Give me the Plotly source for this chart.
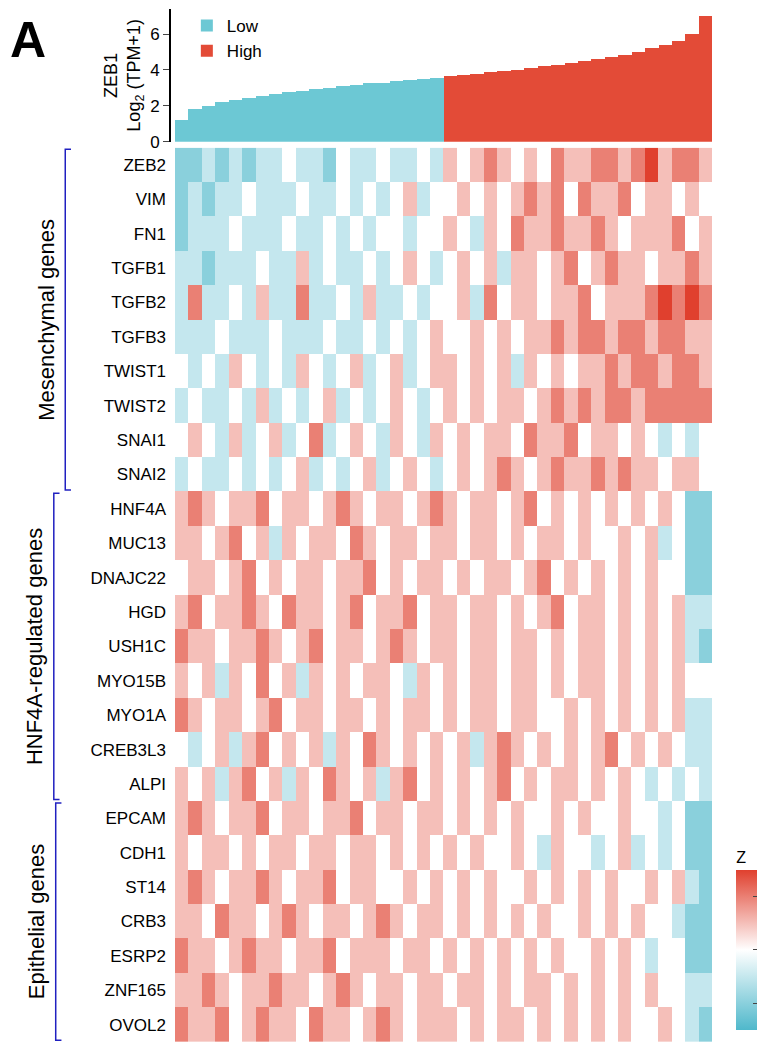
import plotly.graph_objects as go

zeb1 = [1.2, 1.8, 2.0, 2.2, 2.3, 2.45, 2.55, 2.65, 2.75, 2.85, 2.95, 3.0, 3.1, 3.15, 3.25, 3.3, 3.38, 3.45, 3.5, 3.57,
        3.65, 3.72, 3.8, 3.87, 3.95, 4.02, 4.1, 4.2, 4.3, 4.4, 4.5, 4.6, 4.7, 4.85, 5.0, 5.2, 5.4, 5.6, 6.0, 7.0]
n_low = 20

genes = ["ZEB2", "VIM", "FN1", "TGFB1", "TGFB2", "TGFB3", "TWIST1", "TWIST2", "SNAI1", "SNAI2",
         "HNF4A", "MUC13", "DNAJC22", "HGD", "USH1C", "MYO15B", "MYO1A", "CREB3L3", "ALPI",
         "EPCAM", "CDH1", "ST14", "CRB3", "ESRP2", "ZNF165", "OVOL2"]

z_rows = [
    [-2,-2,-1,-2,-1,-2,-1,-1,0,-1,-1,-2,0,-1,-1,0,-1,-1,0,-1, 1,0,1,2,1,0,1,0,2,1,1,2,2,1,2,3,1,2,2,1],
    [-2,-1,-2,-1,-1,0,-1,-1,-1,0,-1,-1,0,-1,0,-1,0,1,-1,0, 0,1,0,1,0,1,2,1,2,0,2,1,1,2,0,1,1,0,1,0],
    [-2,-1,-1,-1,0,-1,-1,-1,0,-1,-1,0,-1,0,-1,0,0,-1,0,0, 1,0,-1,1,0,2,1,1,2,1,1,2,1,0,1,1,1,2,0,1],
    [-1,-1,-2,-1,-1,-1,0,-1,-1,1,-1,0,-1,-1,0,-1,0,1,0,-1, 0,1,0,1,-1,1,1,0,1,2,0,1,2,1,1,0,1,1,2,1],
    [-1,2,-1,-1,0,-1,1,-1,-1,2,-1,-1,0,-1,1,-1,-1,0,-1,0, 0,1,-1,2,0,1,1,0,1,1,2,0,1,1,1,2,3,2,3,2],
    [-1,-1,-1,0,-1,-1,-1,0,-1,-1,-1,0,-1,-1,0,-1,0,-1,0,1, 0,0,1,0,1,0,1,1,2,1,2,2,1,2,2,1,2,2,1,1],
    [0,-1,0,-1,1,0,-1,0,-1,1,0,-1,0,1,-1,0,1,-1,0,1, 1,0,1,0,1,-1,1,0,1,0,1,1,2,1,2,2,1,2,2,1],
    [-1,0,-1,-1,0,-1,1,-1,0,-1,0,1,-1,0,-1,0,1,0,-1,0, 1,0,1,0,1,1,0,1,2,1,2,1,2,2,1,2,2,2,2,2],
    [0,1,0,-1,1,-1,0,1,-1,0,2,-1,0,1,0,-1,1,0,-1,1, 0,1,0,1,1,0,2,1,1,2,0,1,1,0,1,0,-1,0,-1,0],
    [-1,0,-1,-1,0,-1,0,-1,0,1,-1,0,-1,0,1,-1,0,1,0,-1, 0,1,0,1,2,1,0,1,2,1,1,2,1,2,1,1,0,1,1,0],
    [1,2,1,0,1,1,2,0,1,1,0,1,2,1,0,1,1,0,1,2, 1,0,1,1,0,1,2,0,1,0,1,0,1,0,1,0,1,0,-2,-2],
    [1,1,0,1,2,0,1,-1,1,0,1,1,0,2,1,0,1,1,0,1, 1,0,1,1,0,1,0,1,1,0,1,0,0,1,0,1,-1,0,-2,-2],
    [0,1,1,0,1,2,0,1,0,1,1,0,1,1,2,0,1,0,1,1, 0,1,0,1,1,0,1,2,0,1,0,1,0,1,0,1,0,0,-2,-2],
    [1,2,0,1,1,2,1,0,2,1,1,0,1,2,0,1,1,2,0,1, 1,0,1,1,0,1,0,1,2,0,1,1,0,1,0,1,0,1,-1,-1],
    [2,1,1,0,1,1,2,1,0,1,2,0,1,1,0,1,2,1,0,1, 1,0,1,1,0,1,1,0,1,0,1,1,0,1,0,1,0,1,-1,-2],
    [1,0,1,-1,1,0,2,0,1,-1,1,0,1,0,1,1,0,-1,1,0, 1,0,1,1,0,1,1,0,1,0,1,1,0,1,0,1,0,1,0,0],
    [2,1,0,1,1,0,1,2,0,1,1,0,1,1,0,1,0,1,1,0, 1,0,1,1,0,1,1,0,0,1,0,1,0,1,0,1,0,1,-1,-1],
    [0,-1,0,1,-1,1,2,0,1,0,1,-1,1,0,2,1,0,1,0,1, 0,1,-1,1,2,1,0,1,0,1,0,1,2,0,1,0,1,0,-1,-1],
    [1,0,1,-1,1,2,0,1,-1,1,0,2,1,0,1,-1,1,2,0,1, 0,1,0,1,2,0,1,0,1,1,0,1,0,1,0,-1,0,-1,0,-1],
    [1,2,1,0,1,1,2,0,1,1,0,1,1,2,0,1,1,0,1,1, 0,1,0,1,0,1,0,0,1,0,1,0,0,1,0,0,-1,0,-2,-2],
    [1,0,1,1,0,1,0,1,1,0,1,1,0,1,1,0,1,0,1,0, 1,0,1,0,0,1,0,-1,1,0,0,-1,0,1,-1,0,-1,0,-2,-2],
    [1,2,1,0,1,1,2,1,0,1,1,2,0,1,1,0,0,1,0,1, 0,1,0,1,0,0,1,0,1,0,1,0,1,0,0,1,0,1,-1,-2],
    [1,1,0,2,1,1,0,1,2,1,0,1,1,0,1,2,1,0,1,1, 0,1,0,1,0,1,0,1,0,0,1,0,1,0,1,0,0,-1,-2,-2],
    [2,1,1,0,1,2,1,1,0,1,1,2,0,1,1,1,0,1,1,0, 1,0,1,0,1,0,1,0,1,0,0,1,0,1,0,-1,0,0,-2,-2],
    [1,1,2,1,0,1,1,2,1,1,0,1,2,1,0,1,1,0,1,1, 0,1,1,0,1,0,1,1,0,1,0,1,0,1,0,1,0,0,-1,-1],
    [2,1,1,2,0,1,2,1,1,0,2,1,1,0,1,2,1,0,1,1, 1,0,1,0,1,1,0,1,0,1,0,1,0,1,0,0,1,0,-1,-2],
]

# group label, first row, last row, bracket x (px)
groups = [("Mesenchymal genes", 0, 9, 60), ("HNF4A-regulated genes", 10, 18, 48),
          ("Epithelial genes", 19, 25, 50)]

H = 1046
samples = list(range(len(zeb1)))
font = "Liberation Sans, Arial, sans-serif"

fig = go.Figure()
fig.add_trace(go.Bar(x=samples[:n_low], y=zeb1[:n_low], name="Low", marker_color="#6cc8d4",
                     marker_line_width=0, xaxis="x2", yaxis="y2"))
fig.add_trace(go.Bar(x=samples[n_low:], y=zeb1[n_low:], name="High", marker_color="#e34b37",
                     marker_line_width=0, xaxis="x2", yaxis="y2"))
fig.add_trace(go.Heatmap(z=z_rows, x=samples, y=list(range(len(genes))), zmin=-3, zmax=3,
                         colorscale=[[0, "#4fb8cb"], [0.5, "#ffffff"], [1, "#e0402e"]],
                         colorbar=dict(title=dict(text="Z", side="top", font=dict(size=16)),
                                       x=0.984, xanchor="left", y=0.004, yanchor="bottom",
                                       len=0.195, thickness=22, ticks="inside",
                                       showticklabels=False, outlinewidth=0),
                         showlegend=False))

xd = [175 / 765, 738 / 765]
fig.update_layout(
    width=765, height=H, margin=dict(l=0, r=0, t=0, b=0),
    plot_bgcolor="white", paper_bgcolor="white", bargap=0,
    font=dict(family=font, size=17, color="black"),
    xaxis=dict(domain=xd, showticklabels=False, ticks="", showgrid=False, zeroline=False,
               range=[-0.5, len(zeb1) - 0.5]),
    yaxis=dict(domain=[0.002, 1 - 141 / H], range=[len(genes) - 0.5, -0.5], showgrid=False,
               tickvals=list(range(len(genes))), ticktext=genes, zeroline=False,
               ticks="", ticklabelstandoff=8, tickfont=dict(size=17)),
    xaxis2=dict(domain=xd, anchor="y2", showticklabels=False, showgrid=False, zeroline=False,
                range=[-0.5, len(zeb1) - 0.5]),
    yaxis2=dict(domain=[1 - 135 / H, 1 - 1 / H], anchor="free", position=170 / 765,
                range=[0, 7.4], tickvals=[0, 2, 4, 6], ticks="outside", ticklen=6,
                showline=True, linecolor="black", linewidth=2, showgrid=False, zeroline=False,
                tickfont=dict(size=17),
                title=dict(text="ZEB1<br>Log<sub>2</sub> (TPM+1)", font=dict(size=18), standoff=4)),
    legend=dict(x=0.245, y=1.0, xanchor="left", yanchor="top", font=dict(size=17),
                bgcolor="rgba(0,0,0,0)"),
)

fig.add_annotation(text="<b>A</b>", x=0, y=1 - 2 / H, xref="paper", yref="paper", xanchor="left",
                   yanchor="top", showarrow=False, font=dict(size=50, family=font))

for label, r0, r1, bx in groups:
    y0, y1 = r0 - 0.45, r1 + 0.45
    fig.add_shape(type="path", xref="paper", yref="y",
                  path=f"M {(bx + 6) / 765} {y0} L {bx / 765} {y0} "
                       f"L {bx / 765} {y1} L {(bx + 6) / 765} {y1}",
                  line=dict(color="#2020c0", width=1.5))
    fig.add_annotation(text=label, x=(bx - 20) / 765, y=(r0 + r1) / 2, xref="paper",
                       yref="y", xanchor="center", yanchor="middle", textangle=-90,
                       showarrow=False, font=dict(size=22))

fig.write_html("out.html")
